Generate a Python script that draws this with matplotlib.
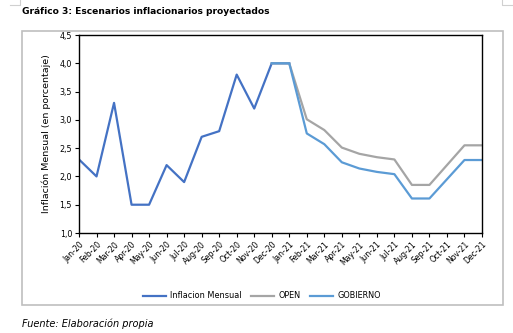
import numpy as np
import matplotlib
matplotlib.use('Agg')
import matplotlib.pyplot as plt
from matplotlib.patches import Rectangle
from matplotlib.lines import Line2D

plt.rcParams['font.family'] = ['DejaVu Sans']

months = ['Jan-20', 'Feb-20', 'Mar-20', 'Apr-20', 'May-20', 'Jun-20', 'Jul-20',
          'Aug-20', 'Sep-20', 'Oct-20', 'Nov-20', 'Dec-20', 'Jan-21', 'Feb-21',
          'Mar-21', 'Apr-21', 'May-21', 'Jun-21', 'Jul-21', 'Aug-21', 'Sep-21',
          'Oct-21', 'Nov-21', 'Dec-21']
nan = np.nan
inflacion = [2.3, 2.0, 3.3, 1.5, 1.5, 2.2, 1.9, 2.7, 2.8, 3.8, 3.2, 4.0, 4.0,
             nan, nan, nan, nan, nan, nan, nan, nan, nan, nan, nan]
open_esc = [nan] * 11 + [4.0, 4.0, 3.01, 2.82, 2.51, 2.40, 2.34, 2.30, 1.85,
                         1.85, 2.20, 2.55, 2.55]
gobierno = [nan] * 11 + [4.0, 4.0, 2.76, 2.57, 2.25, 2.14, 2.08, 2.04, 1.61,
                         1.61, 1.95, 2.29, 2.29]
yticks = [1.0, 1.5, 2.0, 2.5, 3.0, 3.5, 4.0, 4.5]

W, H = 513, 333
fig = plt.figure(figsize=(W / 100, H / 100), dpi=100)

# page corner marks
for xs, ys in [([10, 20, 20], [5, 5, 0]), ([512, 502, 502], [5, 5, 0])]:
    fig.lines.append(Line2D([v / W for v in xs], [1 - v / H for v in ys],
                            transform=fig.transFigure, color='#D0D0D0', lw=0.8))

# gray chart frame
fig.patches.append(Rectangle((21.7 / W, 1 - 304.7 / H), 481 / W, 274 / H,
                             transform=fig.transFigure, fill=False,
                             edgecolor='#BFBFBF', linewidth=1.2))

ax = fig.add_axes([79 / W, 1 - 233 / H, 403 / W, 198 / H])
x = np.arange(len(months))
ax.plot(x, inflacion, color='#4472C4', lw=1.6, label='Inflacion Mensual')
ax.plot(x, open_esc, color='#A5A5A5', lw=1.6, label='OPEN')
ax.plot(x, gobierno, color='#5B9BD5', lw=1.6, label='GOBIERNO')

ax.set_xlim(0, len(months) - 1)
ax.set_ylim(1.0, 4.5)
ax.set_yticks(yticks)
ax.set_yticklabels([f'{v:.1f}'.replace('.', ',') for v in yticks], fontsize=5.8)
ax.set_xticks(x)
ax.set_xticklabels(months, rotation=45, ha='right', rotation_mode='anchor',
                   fontsize=5.6)
ax.tick_params(axis='both', direction='out', length=3, width=0.8, pad=2)
for s in ax.spines.values():
    s.set_linewidth(1.0)
    s.set_color('black')
ax.set_ylabel('Inflación Mensual (en porcentaje)', fontsize=6.8, labelpad=6)

ax.legend(loc='center', bbox_to_anchor=(262 / W, 1 - 296 / H),
          bbox_transform=fig.transFigure, ncol=3, frameon=False,
          fontsize=5.9, handlelength=2.8, columnspacing=1.2, handletextpad=0.5)

fig.text(22 / W, 1 - 12 / H, 'Gráfico 3: Escenarios inflacionarios proyectados',
         fontsize=6.6, fontweight='bold', va='center', ha='left')
fig.text(22 / W, 1 - 324 / H, 'Fuente: Elaboración propia',
         fontsize=7, style='italic', va='center', ha='left')

fig.savefig('out.png', dpi=100)
